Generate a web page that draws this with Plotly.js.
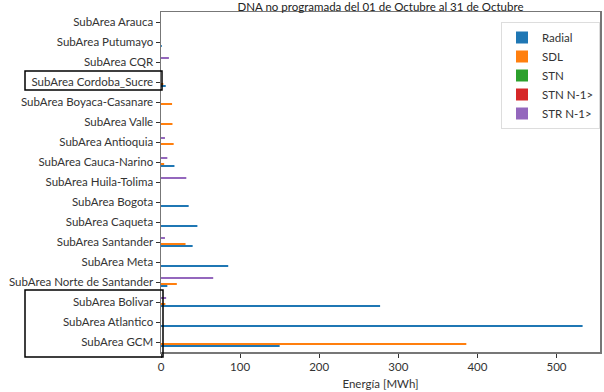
<!DOCTYPE html>
<html>
<head>
<meta charset="utf-8">
<script src="https://cdn.plot.ly/plotly-3.0.1.min.js"></script>
<style>html,body{margin:0;padding:0;background:#fff}#chart{width:604px;height:392px}</style>
</head>
<body>
<div id="chart"></div>
<script>
// Categories from top to bottom as shown in the chart
var categories = ["SubArea Arauca","SubArea Putumayo","SubArea CQR","SubArea Cordoba_Sucre",
  "SubArea Boyaca-Casanare","SubArea Valle","SubArea Antioquia","SubArea Cauca-Narino",
  "SubArea Huila-Tolima","SubArea Bogota","SubArea Caqueta","SubArea Santander","SubArea Meta",
  "SubArea Norte de Santander","SubArea Bolivar","SubArea Atlantico","SubArea GCM"];
var radial = [0, 1, 0, 6, 0, 0, 0, 17, 0, 35, 46, 40, 85, 8, 277, 533, 150];
var sdl    = [0, 0, 0, 3, 14, 14.5, 16, 4, 0, 0, 0, 31, 0, 20, 5.5, 0, 386];
var stn    = [0, 0, 0, 0, 0, 0, 0, 0, 0, 0, 0, 0, 0, 0, 0, 0, 0];
var stnN1  = [0, 0, 0, 0, 0, 0, 0, 0, 0, 0, 0, 0, 0, 0, 0, 0, 0];
var strN1  = [0, 0, 10, 0, 0, 0, 5, 8, 32, 0, 0, 5, 0, 66, 6.5, 0, 0];
var seriesNames = ["Radial","SDL","STN","STN N-1>","STR N-1>"];
var seriesColors = ["#1f77b4","#ff7f0e","#2ca02c","#d62728","#9467bd"];
var xTicks = [0,100,200,300,400,500];

var allSeries = [radial, sdl, stn, stnN1, strN1];
var traces = allSeries.map(function(vals, i){
  return {type:'bar', orientation:'h', name:seriesNames[i], y:categories, x:vals,
          marker:{color:seriesColors[i], line:{width:0}}};
});

var W=604, H=392, L=161, R=4, T=12, B=40;
var pw = W-L-R, ph = H-T-B;
function px(x){return (x-L)/pw;}
function py(y){return (H-B-y)/ph;}

var layout = {
  width:W, height:H,
  margin:{l:L, r:R, t:T, b:B, pad:0},
  paper_bgcolor:'#fff', plot_bgcolor:'#fff',
  barmode:'group', bargap:0.5, bargroupgap:0,
  font:{family:'Lato, "Open Sans", sans-serif', size:11.5, color:'#333'},
  title:{text:'DNA no programada del 01 de Octubre al 31 de Octubre', font:{size:11.5, color:'#222'},
         x:(L+pw/2)/W, xanchor:'center', yref:'container', y:1-7/H, yanchor:'middle'},
  xaxis:{range:[0,555], tickvals:xTicks, ticks:'outside', ticklen:4, tickcolor:'#333',
         showgrid:false, zeroline:false, showline:true, linecolor:'#777', linewidth:1.5, mirror:true,
         title:{text:'Energía [MWh]', font:{size:11.5}, standoff:7}},
  yaxis:{type:'category', categoryorder:'array', categoryarray:categories.slice().reverse(),
         range:[-0.5, categories.length-0.5], ticks:'outside', ticklen:4, tickcolor:'#333',
         showgrid:false, zeroline:false, showline:true, linecolor:'#777', linewidth:1.5, mirror:true},
  legend:{x:px(600), xanchor:'right', y:py(22), yanchor:'top', xref:'paper', yref:'paper',
          bgcolor:'#fff', bordercolor:'#ddd', borderwidth:1, font:{size:11.5}, tracegroupgap:0},
  shapes:[
    {type:'rect', xref:'paper', yref:'paper', x0:px(25), x1:px(162), y0:py(90), y1:py(71),
     line:{color:'#000', width:1.5}, fillcolor:'rgba(0,0,0,0)'},
    {type:'rect', xref:'paper', yref:'paper', x0:px(25), x1:px(163), y0:py(357), y1:py(290),
     line:{color:'#000', width:1.5}, fillcolor:'rgba(0,0,0,0)'}
  ]
};
Plotly.newPlot('chart', traces, layout, {displayModeBar:false, staticPlot:true});
</script>
</body>
</html>
